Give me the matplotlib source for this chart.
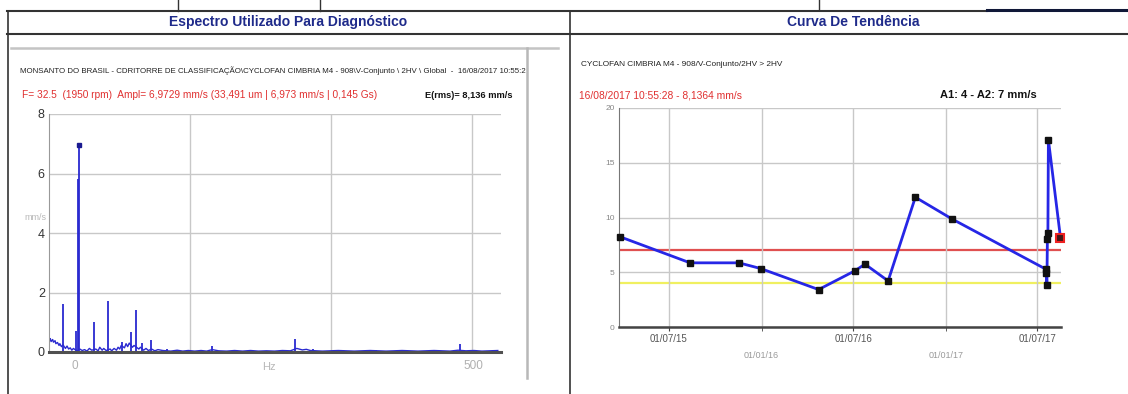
import numpy as np
import matplotlib
matplotlib.use("Agg")
import matplotlib.pyplot as plt
import matplotlib.dates as mdates
from datetime import datetime

W, H = 1128, 394

# ---- spectrum data (Hz, mm/s) ----
peak_f = [-14.6, 0.8, 3.5, 4.6, 23.3, 41.0, 59.0, 70.0, 77.0, 83.5, 95.0, 115.0, 172.0, 276.0, 298.0, 377.0, 482.0]
peak_a = [1.61, 0.69, 5.8, 6.97, 1.02, 1.72, 0.32, 0.66, 1.40, 0.30, 0.40, 0.11, 0.19, 0.45, 0.10, 0.06, 0.28]

floor_f = [-32, -31, -30, -28, -27, -25, -24, -22, -20, -19, -17, -15, -12, -10, -8, -6, -4,
           -2, 0, 3, 6, 9, 12, 15, 18, 21, 26, 29, 31, 34, 36, 39, 44, 46, 49, 52, 54, 56,
           58, 62, 64, 66, 68, 72, 74, 80, 82, 86, 89, 92, 96, 100, 104, 110, 120, 128,
           135, 142, 150, 158, 165, 172, 180, 190, 200, 210, 220, 230, 240, 250, 260, 270,
           278, 285, 290, 295, 310, 330, 350, 370, 390, 410, 430, 450, 470, 480, 490, 500,
           510, 520, 530]
floor_a = [0.38, 0.45, 0.35, 0.42, 0.33, 0.38, 0.28, 0.32, 0.22, 0.28, 0.18, 0.24, 0.12,
           0.20, 0.10, 0.14, 0.06, 0.12, 0.08, 0.04, 0.10, 0.05, 0.08, 0.03, 0.12, 0.06,
           0.10, 0.04, 0.16, 0.06, 0.12, 0.05, 0.10, 0.04, 0.12, 0.06, 0.16, 0.10, 0.22,
           0.14, 0.28, 0.18, 0.30, 0.16, 0.22, 0.10, 0.16, 0.06, 0.12, 0.05, 0.10, 0.04,
           0.08, 0.05, 0.03, 0.06, 0.03, 0.05, 0.03, 0.05, 0.03, 0.08, 0.04, 0.03, 0.05,
           0.03, 0.05, 0.03, 0.04, 0.03, 0.05, 0.04, 0.12, 0.07, 0.09, 0.05, 0.03, 0.05,
           0.03, 0.05, 0.03, 0.05, 0.03, 0.05, 0.03, 0.06, 0.04, 0.05, 0.03, 0.04, 0.05]
spec_grid = [144, 321, 498]

# ---- trend data ----
trend_dates = ["2015-03-26", "2015-08-12", "2015-11-17", "2015-12-30", "2016-04-23",
               "2016-07-04", "2016-07-24", "2016-09-08", "2016-11-01", "2017-01-13",
               "2017-07-18", "2017-07-19", "2017-07-20", "2017-07-21", "2017-07-22",
               "2017-07-23", "2017-08-16"]
trend_vals = [8.24, 5.86, 5.86, 5.34, 3.42, 5.13, 5.74, 4.21, 11.85, 9.86,
              5.28, 4.9, 3.85, 8.0, 8.55, 17.1, 8.14]
alarm_a1 = 4
alarm_a2 = 7
major_dates = ["2015-07-01", "2016-07-01", "2017-07-01"]
minor_dates = ["2016-01-01", "2017-01-01"]

narrow = ["Liberation Sans Narrow", "Liberation Sans", "DejaVu Sans"]
plt.rcParams["font.family"] = ["Liberation Sans", "DejaVu Sans"]

fig = plt.figure(figsize=(W / 100, H / 100), dpi=100)
fig.patch.set_facecolor("white")


def fx(x):
    return x / W


def fy(y):
    return 1 - y / H


def hline(x0, x1, y, color="#333333", lw=1.2):
    fig.add_artist(plt.Line2D([fx(x0), fx(x1)], [fy(y), fy(y)], color=color, lw=lw,
                              transform=fig.transFigure))


def vline(x, y0, y1, color="#333333", lw=1.2):
    fig.add_artist(plt.Line2D([fx(x), fx(x)], [fy(y0), fy(y1)], color=color, lw=lw,
                              transform=fig.transFigure))


def fit_text(x0, x1, y, s, size, **kw):
    # place text left aligned and scale font size so it spans x0..x1
    t = fig.text(fx(x0), fy(y), s, fontsize=size, ha="left", va="center", **kw)
    r = fig.canvas.get_renderer()
    w = t.get_window_extent(r).width
    t.set_fontsize(size * (x1 - x0) / w)
    return t


# ---- table frame ----
hline(7, 987, 11, lw=1.5)
hline(987, W, 10, color="#101838", lw=2.2)
hline(7, W, 34, lw=1.5)
vline(8, 11, H, lw=1.2)
vline(570, 11, H, lw=1.2)
vline(178, 0, 11, lw=1.0)
vline(320, 0, 11, lw=1.0)
vline(819, 0, 10, lw=1.0)

fig.text(fx(288), fy(22), "Espectro Utilizado Para Diagnóstico", fontsize=10,
         fontweight="bold", color="#1e2a8a", ha="center", va="center")
fig.text(fx(853), fy(22), "Curva De Tendência", fontsize=10,
         fontweight="bold", color="#1e2a8a", ha="center", va="center")

# left inner gray box
hline(11, 558, 48, color="#c4c4c4", lw=1.8)
vline(527, 48, 378, color="#b8b8b8", lw=1.8)

fit_text(20, 525, 71,
         "MONSANTO DO BRASIL - CDRITORRE DE CLASSIFICAÇÃO\\CYCLOFAN CIMBRIA M4 - "
         "908\\V-Conjunto \\ 2HV \\ Global  -  16/08/2017 10:55:2",
         6.5, family=narrow, color="#222222")
fit_text(22, 375, 95,
         "F= 32.5  (1950 rpm)  Ampl= 6,9729 mm/s (33,491 um | 6,973 mm/s | 0,145 Gs)",
         8.5, family=narrow, color="#e03030")
fit_text(425, 512, 95, "E(rms)= 8,136 mm/s", 8.5, family=narrow, color="#111111",
         fontweight="bold")

fit_text(581, 784, 65, "CYCLOFAN CIMBRIA M4 - 908/V-Conjunto/2HV > 2HV", 6.5,
         family=narrow, color="#222222")
fit_text(579, 741, 95, "16/08/2017 10:55:28 - 8,1364 mm/s", 8.5, family=narrow,
         color="#e03030")
fit_text(940, 1036, 95, "A1: 4 - A2: 7 mm/s", 8.5, family=narrow, color="#111111",
         fontweight="bold")

# ---- spectrum axes ----
axL = fig.add_axes([fx(49), fy(352), (501 - 49) / W, (352 - 114) / H])
axL.plot(floor_f, floor_a, color="#2a2ad0", lw=1.0)
axL.vlines(peak_f, 0, peak_a, color="#2a2ad0", lw=1.3)
axL.plot([peak_f[3]], [peak_a[3]], marker="s", ms=3.5, color="#1a1a90", clip_on=False)
axL.set_xlim(-32.6, 534)
axL.set_ylim(0, 8)
axL.set_yticks([0, 2, 4, 6, 8])
axL.set_yticklabels(["0", "2", "4", "6", "8"], family=narrow, fontsize=9, color="#333333")
axL.set_xticks([0, 500])
axL.set_xticklabels(["0", "500"], family=narrow, fontsize=8.5, color="#b0b0b0")
axL.tick_params(length=0, pad=3)
axL.tick_params(axis="x", pad=6)
axL.grid(axis="y", color="#c8c8c8", lw=1.0)
for g in spec_grid:
    axL.axvline(g, color="#c8c8c8", lw=1.0, zorder=0)
for s in ["top", "right"]:
    axL.spines[s].set_visible(False)
axL.spines["left"].set_color("#999999")
axL.spines["bottom"].set_color("#505050")
axL.spines["bottom"].set_linewidth(2.2)
fig.text(fx(35), fy(217), "mm/s", fontsize=6.5, family=narrow, color="#b8b8b8",
         ha="center", va="center")
fig.text(fx(269), fy(367), "Hz", fontsize=8, family=narrow, color="#b8b8b8",
         ha="center", va="center")

# ---- trend axes ----
dts = [datetime.strptime(d, "%Y-%m-%d") for d in trend_dates]
axR = fig.add_axes([fx(619), fy(327), (1061 - 619) / W, (327 - 108) / H])
axR.axhline(alarm_a2, color="#e05050", lw=1.6, zorder=1)
axR.axhline(alarm_a1, color="#f0f060", lw=1.6, zorder=1)
axR.plot(dts, trend_vals, color="#2626e6", lw=2.0, zorder=3, clip_on=False)
axR.plot(dts[:-1], trend_vals[:-1], ls="none", marker="s", ms=4.5, color="#111111",
         zorder=4, clip_on=False)
axR.plot([dts[-1]], [trend_vals[-1]], ls="none", marker="s", ms=6, mfc="#401818",
         mec="#ee2020", mew=1.5, zorder=5, clip_on=False)
axR.set_xlim(datetime(2015, 3, 24), datetime(2017, 8, 17))
axR.set_ylim(0, 20)
axR.set_yticks([0, 5, 10, 15, 20])
axR.set_yticklabels(["0", "5", "10", "15", "20"], family=narrow, fontsize=6, color="#888888")
maj = [datetime.strptime(d, "%Y-%m-%d") for d in major_dates]
mnr = [datetime.strptime(d, "%Y-%m-%d") for d in minor_dates]
axR.set_xticks(maj)
axR.set_xticklabels([d.strftime("%d/%m/%y") for d in maj], family=narrow, fontsize=7,
                    color="#555555")
axR.set_xticks(mnr, minor=True)
axR.set_xticklabels([d.strftime("%d/%m/%y") for d in mnr], minor=True, family=narrow,
                    fontsize=6.5, color="#9a9a9a")
axR.tick_params(axis="x", which="major", length=3, pad=2, color="#444444")
axR.tick_params(axis="x", which="minor", length=3, pad=14, color="#444444")
axR.tick_params(axis="y", length=0, pad=3)
axR.grid(axis="y", color="#c8c8c8", lw=1.0)
axR.grid(axis="x", which="both", color="#c8c8c8", lw=1.0)
for s in ["top", "right"]:
    axR.spines[s].set_visible(False)
axR.spines["left"].set_color("#777777")
axR.spines["bottom"].set_color("#444444")
axR.spines["bottom"].set_linewidth(1.8)

fig.savefig("out.png", dpi=100, facecolor="white")
